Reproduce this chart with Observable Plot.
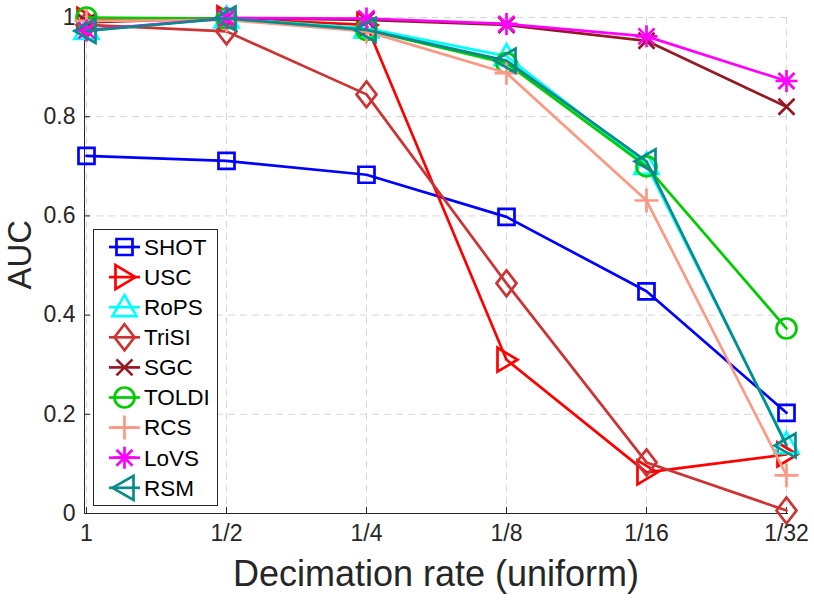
<!DOCTYPE html>
<html><head><meta charset="utf-8">
<script src="https://cdn.jsdelivr.net/npm/d3@7"></script>
<script src="https://cdn.jsdelivr.net/npm/@observablehq/plot@0.6"></script>
<style>
body{margin:0;background:#fff;}
#wrap{position:relative;width:814px;height:602px;}
#legend{position:absolute;left:93px;top:229px;}
</style></head><body><div id="wrap"></div>
<script>
const labels = ["1", "1/2", "1/4", "1/8", "1/16", "1/32"];
const yTicks = [0, 0.2, 0.4, 0.6, 0.8, 1];
const methods = ["SHOT", "USC", "RoPS", "TriSI", "SGC", "TOLDI", "RCS", "LoVS", "RSM"];
const colors = ["#0000ff", "#ff0000", "#00ffff", "#cc3333", "#931a24", "#00cc00", "#fa9a84", "#ff00ff", "#0b8a8c"];
const SHOT  = [0.721, 0.711, 0.683, 0.598, 0.448, 0.203];
const USC   = [0.995, 0.998, 0.985, 0.310, 0.083, 0.119];
const RoPS  = [0.975, 0.998, 0.978, 0.922, 0.703, 0.140];
const TriSI = [0.985, 0.972, 0.845, 0.464, 0.103, 0.006];
const SGC   = [0.990, 0.999, 0.995, 0.985, 0.953, 0.820];
const TOLDI = [1.000, 0.998, 0.975, 0.908, 0.700, 0.373];
const RCS   = [0.993, 0.995, 0.972, 0.888, 0.631, 0.077];
const LoVS  = [0.974, 0.999, 0.998, 0.987, 0.962, 0.872];
const RSM   = [0.973, 0.998, 0.975, 0.913, 0.710, 0.137];
const values = [SHOT, USC, RoPS, TriSI, SGC, TOLDI, RCS, LoVS, RSM];

// marker shapes (MATLAB-like)
const sym = {
  square: {draw(c){c.moveTo(-8,-8);c.lineTo(8,-8);c.lineTo(8,8);c.lineTo(-8,8);c.closePath();}},
  triRight: {draw(c){c.moveTo(11,0);c.lineTo(-9,-12);c.lineTo(-9,12);c.closePath();}},
  triUp: {draw(c){c.moveTo(0,-12);c.lineTo(12,9);c.lineTo(-12,9);c.closePath();}},
  diamond: {draw(c){c.moveTo(0,-13);c.lineTo(10,0);c.lineTo(0,13);c.lineTo(-10,0);c.closePath();}},
  times: {draw(c){c.moveTo(-8,-8);c.lineTo(8,8);c.moveTo(8,-8);c.lineTo(-8,8);}},
  circle: {draw(c){c.moveTo(10,0);c.arc(0,0,10,0,2*Math.PI);}},
  plus: {draw(c){c.moveTo(-12,0);c.lineTo(12,0);c.moveTo(0,-12);c.lineTo(0,12);}},
  asterisk: {draw(c){c.moveTo(-11,0);c.lineTo(11,0);c.moveTo(0,-11);c.lineTo(0,11);c.moveTo(-8,-8);c.lineTo(8,8);c.moveTo(8,-8);c.lineTo(-8,8);}},
  triLeft: {draw(c){c.moveTo(-12,0);c.lineTo(9,-12);c.lineTo(9,12);c.closePath();}}
};
const symbols = [sym.square, sym.triRight, sym.triUp, sym.diamond, sym.times, sym.circle, sym.plus, sym.asterisk, sym.triLeft];

const font = '"Liberation Sans", Arial, Helvetica, sans-serif';
const axisColor = "#262626";
const W = 814, H = 602, mL = 84, mR = 27, mT = 17, mB = 89;
const fw = W - mL - mR, fh = H - mT - mB;

const seriesMarks = [];
methods.forEach((m, i) => {
  const rows = labels.map((l, j) => ({x: l, y: values[i][j]}));
  seriesMarks.push(Plot.line(rows, {x: "x", y: "y", stroke: colors[i], strokeWidth: 2.7}));
  seriesMarks.push(Plot.dot(rows, {x: "x", y: "y", stroke: colors[i], fill: "none", strokeWidth: 2.7, symbol: symbols[i]}));
});

const chart = Plot.plot({
  width: W, height: H,
  marginLeft: mL, marginRight: mR, marginTop: mT, marginBottom: mB,
  style: {fontFamily: font, fontSize: "23px", color: axisColor, background: "white", overflow: "visible"},
  x: {type: "point", domain: labels, padding: 0},
  y: {domain: [0, 1]},
  marks: [
    Plot.gridX(labels, {stroke: "#d6d6d6", strokeOpacity: 1, strokeDasharray: "7,5", strokeWidth: 1}),
    Plot.gridY(yTicks, {stroke: "#d6d6d6", strokeOpacity: 1, strokeDasharray: "7,5", strokeWidth: 1}),
    Plot.frame({anchor: "left", stroke: axisColor, strokeWidth: 1}),
    Plot.frame({anchor: "bottom", stroke: axisColor, strokeWidth: 1}),
    Plot.ruleX(labels, {stroke: axisColor, insetTop: fh - 6}),
    Plot.ruleY(yTicks, {stroke: axisColor, insetRight: fw - 6}),
    ...seriesMarks,
    Plot.axisX(labels, {tickSize: 0, tickPadding: 11, label: null, fontSize: 23, fill: axisColor}),
    Plot.axisY(yTicks, {tickSize: 0, tickPadding: 9, label: null, fontSize: 23, fill: axisColor, tickFormat: d => String(d)}),
    Plot.text(["Decimation rate (uniform)"], {frameAnchor: "bottom", dy: 72, fontSize: 36, fill: axisColor, text: d => d}),
    Plot.text(["AUC"], {frameAnchor: "left", dx: -64, dy: 24, rotate: -90, fontSize: 33, fill: axisColor, text: d => d})
  ]
});
document.getElementById("wrap").appendChild(chart);

// legend
const lw = 125, lh = 277;
const leg = d3.select("#wrap").append("svg").attr("id", "legend").attr("width", lw).attr("height", lh)
  .style("font-family", font);
leg.append("rect").attr("x", 0.5).attr("y", 0.5).attr("width", lw - 1).attr("height", lh - 1)
  .attr("fill", "white").attr("stroke", axisColor).attr("stroke-width", 1);
methods.forEach((m, i) => {
  const cy = 18 + i * 30.1;
  const g = leg.append("g").attr("transform", `translate(0,${cy})`);
  g.append("line").attr("x1", 16).attr("x2", 47).attr("y1", 0).attr("y2", 0)
    .attr("stroke", colors[i]).attr("stroke-width", 2.7);
  g.append("path").attr("d", d3.symbol(symbols[i])()).attr("transform", "translate(31.5,0)")
    .attr("fill", "none").attr("stroke", colors[i]).attr("stroke-width", 2.7);
  g.append("text").attr("x", 51).attr("y", 0).attr("dy", "0.35em").attr("font-size", 22.5)
    .attr("fill", "#000").text(m);
});
</script>
</body></html>
